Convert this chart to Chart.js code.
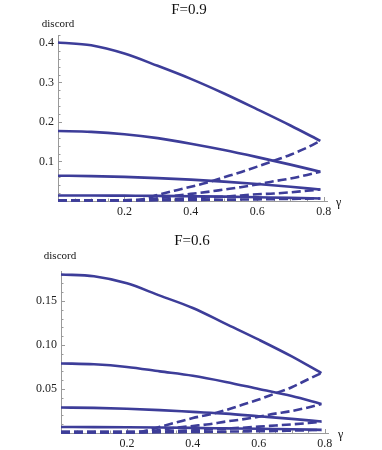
<!DOCTYPE html>
<html><head><meta charset="utf-8">
<script src="https://cdn.jsdelivr.net/npm/chart.js@4/dist/chart.umd.min.js"></script>
<style>
html,body{margin:0;padding:0;background:#fff;}
#wrap{position:relative;width:382px;height:450px;overflow:hidden;}
.box{position:absolute;left:0;width:382px;}
</style></head><body>
<div id="wrap">
<div class="box" style="top:0;height:225px"><canvas id="c1"></canvas></div>
<div class="box" style="top:225px;height:245px"><canvas id="c2"></canvas></div>
</div>
<script>
// ---- data ----
const gammaSolid  = [0, 0.1, 0.2, 0.3, 0.4, 0.5, 0.6, 0.7, 0.79];
const gammaDashed = [0, 0.1, 0.2, 0.25, 0.3, 0.35, 0.4, 0.45, 0.5, 0.55, 0.6, 0.65, 0.7, 0.75, 0.79];

// F = 0.9
const topSolid1 = [0.401, 0.394, 0.373, 0.342, 0.309, 0.272, 0.232, 0.191, 0.152];
const topSolid2 = [0.177, 0.175, 0.169, 0.159, 0.145, 0.129, 0.111, 0.092, 0.074];
const topSolid3 = [0.064, 0.063, 0.061, 0.058, 0.054, 0.049, 0.043, 0.036, 0.029];
const topSolid4 = [0.014, 0.014, 0.0135, 0.013, 0.012, 0.011, 0.0095, 0.008, 0.0065];
const topDashed1 = [0.002, 0.002, 0.002, 0.004, 0.015, 0.026, 0.036, 0.047, 0.060, 0.073, 0.087, 0.102, 0.117, 0.135, 0.152];
const topDashed2 = [0.002, 0.002, 0.002, 0.003, 0.007, 0.013, 0.018, 0.023, 0.029, 0.035, 0.042, 0.050, 0.057, 0.066, 0.074];
const topDashed3 = [0.002, 0.002, 0.002, 0.002, 0.003, 0.005, 0.007, 0.009, 0.011, 0.014, 0.017, 0.019, 0.022, 0.026, 0.029];
const topDashed4 = [0.002, 0.002, 0.002, 0.002, 0.002, 0.002, 0.0025, 0.003, 0.0033, 0.0037, 0.0042, 0.0047, 0.0053, 0.006, 0.0065];

// F = 0.6
const botSolid1 = [0.180, 0.178, 0.170, 0.156, 0.142, 0.124, 0.106, 0.087, 0.068];
const botSolid2 = [0.079, 0.078, 0.075, 0.070, 0.065, 0.058, 0.050, 0.042, 0.033];
const botSolid3 = [0.029, 0.0285, 0.0275, 0.026, 0.024, 0.022, 0.019, 0.016, 0.013];
const botSolid4 = [0.0068, 0.0067, 0.0065, 0.0062, 0.0058, 0.0053, 0.0048, 0.0042, 0.0036];
const botDashed1 = [0.001, 0.001, 0.001, 0.002, 0.007, 0.012, 0.017, 0.021, 0.026, 0.032, 0.038, 0.045, 0.052, 0.061, 0.068];
const botDashed2 = [0.001, 0.001, 0.001, 0.001, 0.0035, 0.006, 0.008, 0.010, 0.013, 0.0155, 0.0185, 0.022, 0.025, 0.029, 0.033];
const botDashed3 = [0.001, 0.001, 0.001, 0.001, 0.0015, 0.0025, 0.003, 0.004, 0.005, 0.006, 0.0072, 0.0085, 0.0098, 0.0113, 0.013];
const botDashed4 = [0.001, 0.001, 0.001, 0.001, 0.001, 0.001, 0.0012, 0.0014, 0.0016, 0.0018, 0.002, 0.0023, 0.0027, 0.0031, 0.0036];

// tick labels
const xTickValues = [0.2, 0.4, 0.6, 0.8];
const yTicksTop = [0.1, 0.2, 0.3, 0.4];
const yTicksBottom = [0.05, 0.10, 0.15];

const titleTop = 'F=0.9';
const titleBottom = 'F=0.6';
const yLabel = 'discord';
const xLabel = 'γ';

// ---- styling ----
const LINE = 'rgb(61,61,153)';
const AXIS = '#9a9a9a';
const SERIF = '"Liberation Serif", "DejaVu Serif", serif';

function series(xs, ys, dashed) {
  return {
    data: xs.map((g, i) => ({x: g, y: ys[i]})),
    borderColor: LINE,
    borderWidth: 2.6,
    borderDash: dashed ? [9, 4] : [],
    borderCapStyle: 'butt',
    pointRadius: 0,
    fill: false,
    cubicInterpolationMode: 'monotone',
    clip: false
  };
}

const mmaPlugin = {
  id: 'mma',
  beforeDatasetsDraw(chart, args, o) {
    const ctx = chart.ctx, xs = chart.scales.x, ys = chart.scales.y, a = chart.chartArea;
    ctx.save();
    ctx.strokeStyle = AXIS; ctx.lineWidth = 1;
    const nx = Math.round(0.8 / o.xMinor);
    for (let i = 1; i <= nx; i++) {
      const v = i * o.xMinor;
      const major = xTickValues.some(t => Math.abs(t - v) < 1e-6);
      const px = Math.round(xs.getPixelForValue(v)) + 0.5;
      ctx.beginPath(); ctx.moveTo(px, a.bottom); ctx.lineTo(px, a.bottom - (major ? 4 : 2.5)); ctx.stroke();
    }
    const ny = Math.round(ys.max / o.yMinor);
    for (let i = 1; i <= ny; i++) {
      const v = i * o.yMinor;
      const major = o.yMajor.some(t => Math.abs(t - v) < 1e-6);
      const py = Math.round(ys.getPixelForValue(v)) + 0.5;
      ctx.beginPath(); ctx.moveTo(a.left, py); ctx.lineTo(a.left + (major ? 4 : 2.5), py); ctx.stroke();
    }
    ctx.restore();
  },
  afterDraw(chart, args, o) {
    const ctx = chart.ctx;
    ctx.save();
    ctx.fillStyle = '#111';
    ctx.textBaseline = 'alphabetic';
    ctx.font = '15px ' + SERIF; ctx.textAlign = 'center';
    ctx.fillText(o.title, o.titleX, o.titleY);
    ctx.font = '11px ' + SERIF;
    ctx.fillText(yLabel, o.discX, o.discY);
    ctx.textAlign = 'left';
    ctx.font = '12px ' + SERIF;
    ctx.fillText(xLabel, o.gX, o.gY);
    ctx.restore();
  }
};

function makeChart(id, datasets, yMax, yMajor, yMinor, yDigits, pad, plug) {
  return new Chart(document.getElementById(id), {
    type: 'line',
    data: { datasets },
    plugins: [mmaPlugin],
    options: {
      responsive: true, maintainAspectRatio: false, animation: false, devicePixelRatio: 1,
      layout: { padding: pad },
      plugins: {
        legend: { display: false }, tooltip: { enabled: false }, title: { display: false },
        mma: Object.assign({ xMinor: 0.05, yMinor, yMajor }, plug)
      },
      scales: {
        x: {
          type: 'linear', min: 0, max: 0.81,
          grid: { display: false, drawTicks: false },
          border: { display: true, color: AXIS, width: 1 },
          afterBuildTicks: s => { s.ticks = xTickValues.map(v => ({ value: v })); },
          afterFit: s => { s.height = 22; },
          ticks: { font: { family: SERIF, size: 12 }, color: '#222', padding: 4, maxRotation: 0,
                   callback: v => Number(v).toFixed(1) }
        },
        y: {
          type: 'linear', min: 0, max: yMax,
          grid: { display: false, drawTicks: false },
          border: { display: true, color: AXIS, width: 1 },
          afterBuildTicks: s => { s.ticks = yMajor.map(v => ({ value: v })); },
          afterFit: s => { s.width = 40; },
          ticks: { font: { family: SERIF, size: 12 }, color: '#222', padding: 4,
                   callback: v => Number(v).toFixed(yDigits) }
        }
      }
    }
  });
}

makeChart('c1', [
  series(gammaSolid, topSolid1, false), series(gammaSolid, topSolid2, false),
  series(gammaSolid, topSolid3, false), series(gammaSolid, topSolid4, false),
  series(gammaDashed, topDashed1, true), series(gammaDashed, topDashed2, true),
  series(gammaDashed, topDashed3, true), series(gammaDashed, topDashed4, true)
], 0.42, yTicksTop, 0.02, 1,
  { left: 18, right: 55, top: 35, bottom: 2 },
  { title: titleTop, titleX: 189, titleY: 14, discX: 58, discY: 27, gX: 336, gY: 206 });

makeChart('c2', [
  series(gammaSolid, botSolid1, false), series(gammaSolid, botSolid2, false),
  series(gammaSolid, botSolid3, false), series(gammaSolid, botSolid4, false),
  series(gammaDashed, botDashed1, true), series(gammaDashed, botDashed2, true),
  series(gammaDashed, botDashed3, true), series(gammaDashed, botDashed4, true)
], 0.184, yTicksBottom, 0.01, 2,
  { left: 21, right: 54, top: 46, bottom: 15 },
  { title: titleBottom, titleX: 192, titleY: 20, discX: 60, discY: 34, gX: 338, gY: 213 });
</script>
</body></html>
